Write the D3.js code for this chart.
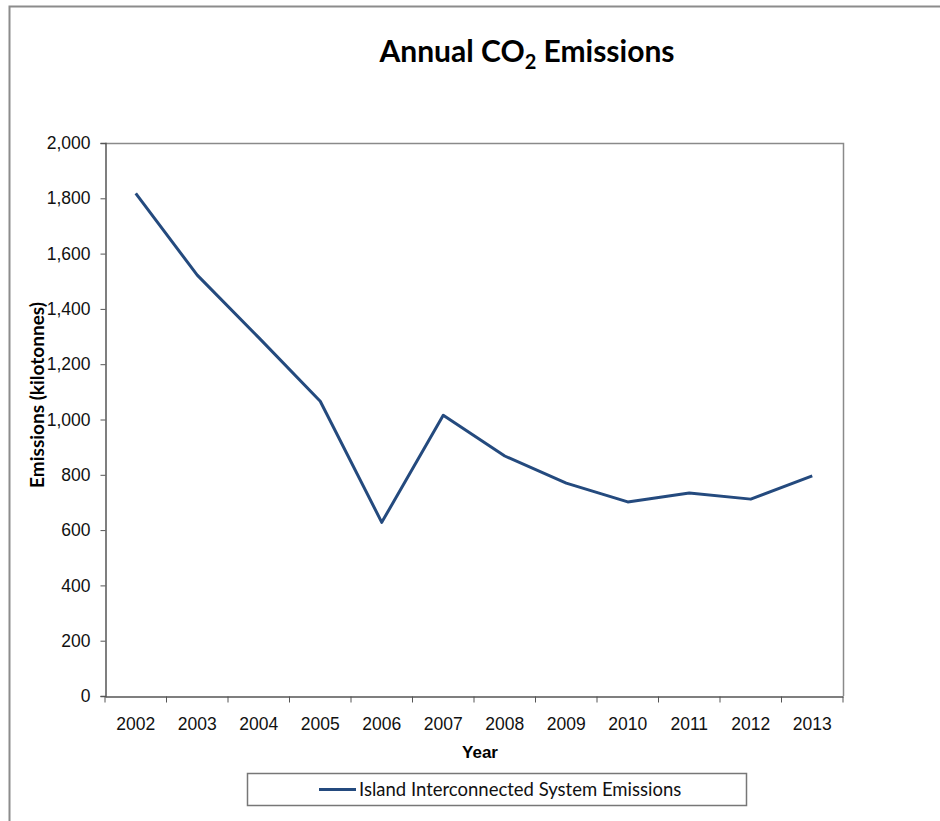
<!DOCTYPE html>
<html>
<head>
<meta charset="utf-8">
<script src="https://cdn.jsdelivr.net/npm/d3@7"></script>
<style>
    body { margin: 0; background: #fff; }
    svg { display: block; }
</style>
</head>
<body>
<svg id="chart"></svg>
<script>
// data
var years = ["2002", "2003", "2004", "2005", "2006", "2007", "2008", "2009", "2010", "2011", "2012", "2013"];
var emissions = [1818, 1522, 1296, 1066, 628, 1015, 868, 770, 702, 734, 712, 796];
var yTicks = [0, 200, 400, 600, 800, 1000, 1200, 1400, 1600, 1800, 2000];
var seriesName = "Island Interconnected System Emissions";

var width = 940, height = 821;
var plot = {left: 105, top: 143, right: 843, bottom: 696};

var svg = d3.select("#chart")
    .attr("width", width)
    .attr("height", height);

// outer frame (only top and left edges show)
svg.append("path")
    .attr("d", "M9.5," + height + "V6.5H" + width)
    .attr("fill", "none")
    .attr("stroke", "#8c8c8c")
    .attr("stroke-width", 2);

var x = d3.scaleBand()
    .domain(years)
    .range([plot.left, plot.right]);

var y = d3.scaleLinear()
    .domain([0, 2000])
    .range([plot.bottom, plot.top]);

// plot area border (top + right, grey)
svg.append("path")
    .attr("d", "M" + plot.left + "," + (plot.top + 0.5) + "H" + (plot.right + 0.5) + "V" + plot.bottom)
    .attr("fill", "none")
    .attr("stroke", "#8a8a8a")
    .attr("stroke-width", 1.5);

// y axis
var yAxis = svg.append("g")
    .attr("transform", "translate(" + (plot.left + 0.5) + ",0)")
    .call(d3.axisLeft(y)
        .tickValues(yTicks)
        .tickSize(5)
        .tickPadding(10)
        .tickFormat(d3.format(",")));

// x axis, ticks sit between categories like excel
var xAxis = svg.append("g")
    .attr("transform", "translate(0," + (plot.bottom + 0.5) + ")")
    .call(d3.axisBottom(x).tickSize(0).tickPadding(21));

xAxis.selectAll(".bound")
    .data(d3.range(years.length + 1))
    .enter()
    .append("line")
    .attr("class", "bound")
    .attr("x1", function(i) { return plot.left + i * x.step(); })
    .attr("x2", function(i) { return plot.left + i * x.step(); })
    .attr("y1", 0)
    .attr("y2", 6)
    .attr("stroke", "#555");

[yAxis, xAxis].forEach(function(g) {
    g.select(".domain").attr("stroke", "#555").attr("stroke-width", 1.5);
    g.selectAll(".tick line").attr("stroke", "#555");
    g.selectAll("text")
        .attr("font-family", "'Liberation Sans', Arial, sans-serif")
        .attr("font-size", 17.5)
        .attr("fill", "#111");
});

// the series line
var line = d3.line()
    .x(function(d, i) { return x(years[i]) + x.bandwidth() / 2; })
    .y(function(d) { return y(d); });

svg.append("path")
    .datum(emissions)
    .attr("d", line)
    .attr("fill", "none")
    .attr("stroke", "#244a7e")
    .attr("stroke-width", 3)
    .attr("stroke-linejoin", "round");

// title
var title = svg.append("text")
    .attr("x", 527)
    .attr("y", 62)
    .attr("text-anchor", "middle")
    .attr("font-family", "Lato, 'Open Sans', sans-serif")
    .attr("font-weight", "bold")
    .attr("font-size", 30)
    .attr("fill", "#000");
title.append("tspan").text("Annual CO");
title.append("tspan").attr("font-size", 20).attr("dy", 7).text("2");
title.append("tspan").attr("dy", -7).text(" Emissions");

// axis titles
svg.append("text")
    .attr("transform", "translate(44,395) rotate(-90)")
    .attr("text-anchor", "middle")
    .attr("font-family", "Lato, 'Open Sans', sans-serif")
    .attr("font-weight", "bold")
    .attr("font-size", 19)
    .text("Emissions (kilotonnes)");

svg.append("text")
    .attr("x", 480)
    .attr("y", 758)
    .attr("text-anchor", "middle")
    .attr("font-family", "'Liberation Sans', Arial, sans-serif")
    .attr("font-weight", "bold")
    .attr("font-size", 17)
    .text("Year");

// legend
var legend = svg.append("g");
legend.append("rect")
    .attr("x", 247.5)
    .attr("y", 773.5)
    .attr("width", 499)
    .attr("height", 32)
    .attr("fill", "#fff")
    .attr("stroke", "#777")
    .attr("stroke-width", 1.5);
legend.append("line")
    .attr("x1", 319)
    .attr("x2", 356)
    .attr("y1", 789.5)
    .attr("y2", 789.5)
    .attr("stroke", "#244a7e")
    .attr("stroke-width", 3);
legend.append("text")
    .attr("x", 359)
    .attr("y", 796)
    .attr("font-family", "Lato, 'Open Sans', sans-serif")
    .attr("font-size", 18.5)
    .attr("fill", "#111")
    .text(seriesName);
</script>
</body>
</html>
